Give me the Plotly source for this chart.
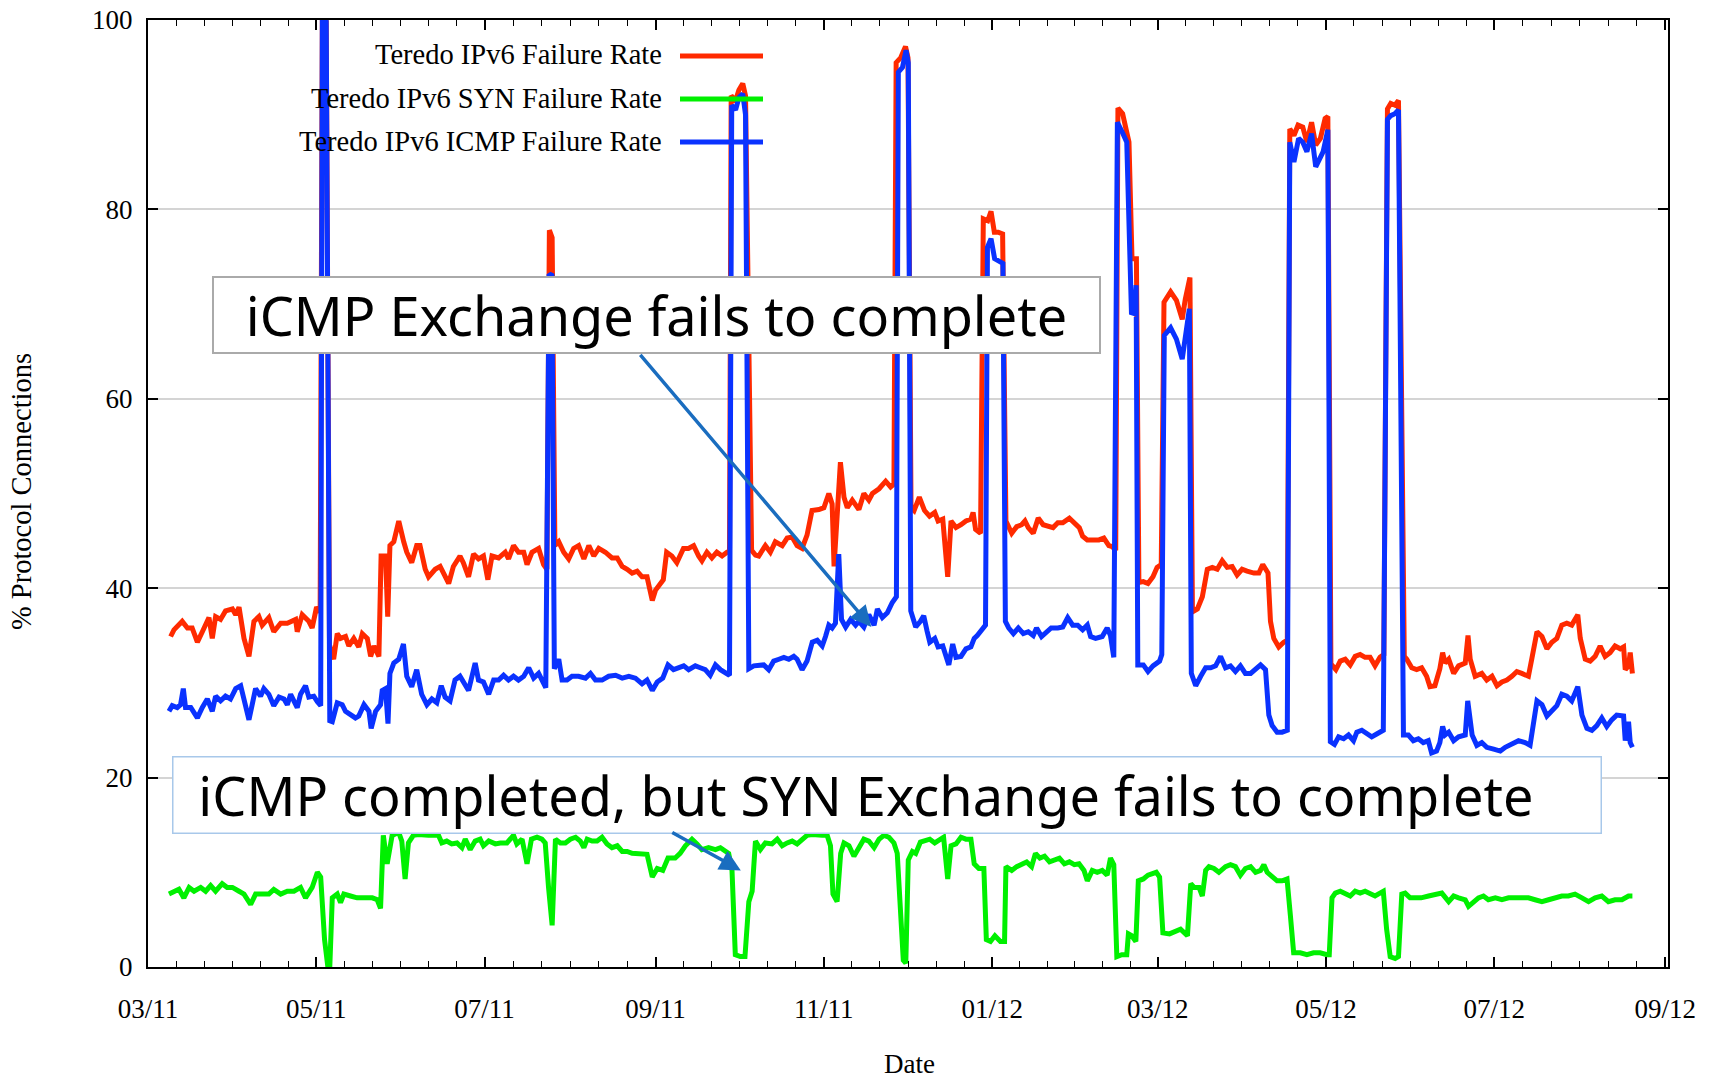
import pandas as pd
import plotly.graph_objects as go

START = "2011-03-01"  # day 0 of the day offsets below

# ---- Teredo IPv6 Failure Rate (red) : day offset, percent ----
red_day = [8.2, 9.4, 12.4, 14.3, 16, 17.9, 19.7, 22.1, 23.3, 24.5, 26.3, 28.1, 30.6, 31.8, 33, 34.8, 36.6, 38.4, 40.2, 41.4,
           43.8, 45.6, 48.1, 50.5, 53.5, 54.1, 55.9, 58.3, 59.5, 61.1, 62.4, 63.2, 64.6, 65.8, 67.3, 68.6, 69.8, 71.6, 72.8, 74.6,
           76.4, 77.7, 79.5, 80.7, 81.9, 83.7, 84.5, 86.1, 86.9, 87.7, 89.1, 90.9, 92.7, 93.8, 95.6, 97.4, 98.6, 100.5, 101.7, 104.1,
           105.9, 107.1, 109, 110.7, 113.1, 114.3, 116.2, 118, 119.8, 121.6, 123.2, 124.7, 127.1, 129.5, 130.7, 132.5, 134.3, 136.2, 137.4, 139.2,
           141.6, 143.4, 144.6, 145.5, 146.5, 147.5, 148.9, 150.7, 152.5, 154.3, 156.1, 158, 159.8, 161.6, 163.4, 165.8, 168.2, 170.1, 171.9, 173.7,
           175.5, 177.3, 179.1, 180.9, 182.8, 184, 185.8, 186.8, 188, 189.9, 191.7, 194.1, 195.9, 197.8, 199.6, 200.8, 202.6, 204.4, 206.2, 208.1,
           209.9, 210.8, 211.4, 213, 214.2, 215.6, 216.6, 218.8, 220.2, 221.4, 223.8, 225.6, 227.4, 229.9, 231.7, 233.5, 235.3, 237.1, 238.9, 240.7,
           243.2, 245, 246.8, 248, 248.7, 249.8, 251, 252.3, 253.5, 255.3, 257.7, 259.5, 261.3, 262.6, 265, 267.4, 269.2, 270.4, 271.2, 272.8,
           274.6, 275.5, 276.6, 277.7, 279.6, 281.5, 283.3, 285.2, 286.4, 288.1, 289.9, 291.1, 292.9, 294.7, 296.5, 298.3, 299.1, 300, 301.8, 302.8,
           304.4, 305.6, 306.8, 308.2, 309.8, 311, 313.1, 314.9, 316.7, 317.9, 319.1, 320.9, 322.7, 324.5, 326.3, 328.1, 329.8, 331.6, 334, 335.8,
           337.6, 338.8, 340.5, 342.3, 344.7, 346.5, 348.3, 349.5, 350.8, 351.6, 353.3, 354.6, 355.6, 356.7, 358.3, 359.2, 360.8, 362.5, 364.3, 365.8,
           367.3, 368.3, 370.7, 372.8, 374.9, 376, 377.7, 378.6, 379.2, 380.4, 382.2, 384, 385.8, 387.6, 389.4, 391.2, 393, 394.8, 396.6, 398.4,
           400.9, 402.7, 404.1, 406, 406.9, 408.1, 409.9, 411.7, 413, 413.9, 415.4, 416.9, 418.6, 420.1, 421.8, 423.3, 425, 426.7, 427.7, 428.8,
           430.6, 432.2, 434, 435.8, 437.6, 439.4, 441.2, 443, 444.8, 446.6, 448, 449.3, 450.5, 452, 453.3, 455.4, 456.3, 458.1, 459.9, 461.7,
           463.5, 464.7, 466.5, 468.3, 469.3, 470.2, 471.5, 473.3, 475.1, 477.5, 478.5, 479.3, 481.1, 483.5, 485.3, 487.2, 489, 490.8, 492.6, 494.4,
           496.2, 498, 500.4, 501.6, 503.5, 505.3, 507.1, 508.9, 510.7, 512.5, 514.3, 516.1, 518.3, 519.2, 521, 522.8, 524.6, 526.4, 528.2, 530,
           531.8, 533.7, 534.9, 535.5, 536.7, 537.3, 538.1]
red_pct = [34.9, 35.6, 36.5, 35.8, 35.8, 34.3, 35.4, 36.9, 34.7, 37, 36.7, 37.6, 37.8, 37.2, 38, 34.7, 32.8, 36.5, 37, 36.1,
           36.9, 35.4, 36.3, 36.3, 36.7, 35.4, 37.2, 36.5, 35.8, 38, 37.5, 100, 99.8, 34, 32.5, 35.2, 34.7, 34.9, 33.9, 34.7,
           33.8, 35.2, 34.7, 32.8, 33.9, 32.8, 43.4, 43.4, 37, 44.5, 44.9, 47.1, 44.9, 43.8, 42.7, 44.5, 44.5, 42, 41.2, 42,
           42.3, 41.6, 40.5, 42.3, 43.4, 42.7, 41.2, 43.6, 43.1, 43.4, 40.9, 43.4, 43.2, 43.8, 43.1, 44.5, 43.8, 43.8, 42.5, 43.8,
           44.2, 42.5, 42, 77.8, 77, 44.5, 44.9, 43.8, 43.1, 44.2, 44.5, 43.1, 44.5, 43.4, 44.2, 43.8, 43.2, 43.2, 42.3, 42,
           41.6, 41.8, 41.2, 41.2, 38.7, 39.8, 40.5, 40.9, 43.8, 43.4, 42.7, 44.2, 44.2, 44.5, 43.4, 42.9, 43.8, 43.2, 43.8, 43.4,
           43.8, 43.8, 92, 91.5, 92.6, 93.3, 92, 44, 43.5, 43.4, 44.5, 43.8, 44.9, 44.5, 45.3, 45.4, 44.5, 44.2, 45.6, 48.2,
           48.3, 48.5, 50, 48.9, 42.3, 48.2, 53.3, 49.6, 48.5, 49.3, 48.3, 50, 49.3, 50, 50.5, 51.3, 50.7, 51, 95.5, 96,
           97.2, 96, 48.5, 48.2, 49.6, 48.2, 47.6, 48, 47.1, 47.3, 41.2, 47.1, 46.4, 46.7, 47.1, 47.3, 48, 46.2, 45.8, 79,
           78.8, 79.8, 77.6, 77.6, 77.4, 47.1, 45.8, 46.5, 46.7, 47.1, 46.4, 45.8, 47.4, 46.7, 46.5, 46.4, 46.9, 46.9, 47.4, 46.9,
           46.4, 45.5, 45.1, 45.1, 45.1, 45.3, 44.5, 44.4, 44, 90.7, 90.1, 88.4, 87.1, 74.8, 74.8, 40.6, 40.7, 40.5, 41.2, 42.2,
           42.5, 70.2, 71.3, 70.4, 68.4, 70.5, 72.8, 38, 37.6, 37.8, 39.1, 42, 42.2, 42, 42.9, 42.2, 42.3, 41.4, 42, 41.8,
           41.6, 41.6, 42.5, 41.6, 36.5, 34.7, 33.8, 34.3, 34.5, 88.5, 87.8, 88.9, 88.7, 87.1, 89.2, 86.8, 87.5, 89.6, 89.8, 32,
           31.4, 32.3, 32.5, 31.9, 32.8, 33, 32.7, 32.7, 31.8, 32.7, 33, 90.6, 91.2, 91, 91.5, 32.8, 32.5, 31.6, 31.4, 31.6,
           30.7, 29.6, 29.7, 31.5, 33.2, 32.1, 32.5, 31, 31.8, 32.1, 35, 32.5, 30.7, 31, 30.3, 30.7, 29.7, 30.1, 30.3, 30.7,
           31.2, 31, 30.7, 32.5, 35.4, 34.9, 33.6, 34.3, 34.7, 36.1, 36.3, 36.1, 37.2, 34.7, 32.5, 32.3, 32.8, 33.9, 32.8, 33.2,
           33.9, 33.6, 33.8, 31.4, 31.8, 33.2, 31]

# ---- Teredo IPv6 SYN Failure Rate (green) ----
green_day = [7.6, 9.4, 11.2, 13, 14.9, 16.7, 19.1, 20.9, 22.7, 24.5, 26.9, 28.7, 30.6, 33, 34.8, 37.2, 39, 41.4, 43.8, 45.6,
             48.1, 50.5, 52.9, 55.3, 57.1, 59.5, 61.4, 62.6, 64, 65.2, 65.9, 66.8, 68.6, 69.8, 71, 73.4, 75.8, 78.3, 81.3, 83.1,
             84.3, 85.3, 86.7, 88.5, 90.9, 92, 93.2, 94.4, 96.2, 98, 99.8, 101.7, 103.5, 105.3, 106.5, 108.3, 110.1, 112, 113.8, 115,
             116.8, 118.6, 120.4, 121.6, 123.5, 125.9, 127.7, 130.1, 132.5, 133.7, 135.6, 137.4, 139, 141, 142.8, 144, 145.2, 146.5, 147.7, 149.5,
             151.3, 153.1, 155, 156.7, 158, 159.2, 161, 162.8, 164.6, 166.4, 168.2, 170.1, 171.9, 173.7, 175.5, 177.3, 179.1, 180.9, 182.8, 184.6,
             186.6, 188.5, 191.1, 192.9, 194.8, 197.2, 199, 200.8, 203.2, 205.7, 207.5, 209.3, 210.5, 211.7, 212.9, 214.7, 216.4, 217.8, 219, 220.2,
             222, 223.8, 226.2, 228.1, 229.9, 231.7, 233.5, 235.3, 237.1, 238.9, 240.8, 242.6, 244.4, 246.2, 247.4, 248.3, 249.8, 251.1, 252.3, 254.1,
             255.9, 257.7, 259.5, 261.3, 263.2, 265, 266.8, 268.6, 270.4, 271.6, 272.8, 273.8, 274.7, 275.6, 277.1, 278.3, 280, 281.8, 283.4, 285.2,
             287, 288.4, 289.9, 291.1, 292.9, 294.7, 296.5, 298.3, 299.5, 301.2, 303, 303.9, 305.4, 307, 309, 310.5, 311, 313.1, 314.9, 316.7,
             318.5, 320.3, 321.7, 323.3, 325, 326.8, 328.6, 330.4, 332.2, 334, 335.8, 337.5, 339.3, 340.5, 342.3, 344.1, 345.9, 347.7, 348.9, 350.1,
             351.2, 353, 354.8, 355.4, 356.6, 358.1, 359, 360.8, 362.5, 364.3, 365.5, 366.7, 367.9, 370.3, 372.6, 374.3, 376.8, 378, 379.2, 381,
             382.2, 383.4, 384.6, 386.4, 388.2, 390.6, 392.4, 394.2, 396, 397.8, 399.7, 401.5, 403.3, 404.5, 405.7, 407.5, 409.3, 411.1, 412.9, 414.1,
             415.3, 417.7, 420.1, 422.5, 424.9, 427.4, 428.2, 429.2, 430.4, 432.2, 434, 435.8, 437.6, 439.4, 441.2, 443, 444.8, 446.6, 447.8, 449,
             450.3, 452.1, 453.3, 454.5, 455.7, 457.5, 459.3, 461.5, 464.2, 466.6, 469, 471.5, 473.3, 475.1, 477.5, 478.7, 480.5, 482.3, 484.1, 485.9,
             488.4, 490.8, 493.2, 495.6, 498, 500.4, 502.8, 505.3, 507.7, 510.1, 512.5, 514.9, 517.3, 519.8, 522.2, 524.6, 527, 529.4, 531.8, 534.3,
             536.7, 538.1]
green_pct = [7.7, 8, 8.2, 7.3, 8.4, 8, 8.4, 8, 8.6, 8, 8.8, 8.4, 8.4, 8, 7.7, 6.6, 7.7, 7.7, 7.7, 8.2,
             7.7, 8, 8, 8.4, 7.3, 8.4, 10, 9.5, 2.9, 0, 0, 7.3, 7.7, 6.8, 7.7, 7.5, 7.3, 7.3, 7.3, 7.1,
             6.2, 13.9, 10.9, 13.9, 14.2, 13.3, 9.3, 13.1, 13.9, 14, 13.9, 13.9, 13.9, 13.9, 13.1, 13.3, 13, 13.1, 12.6, 13.5,
             12.4, 13.3, 13.5, 12.8, 13.3, 13, 13.1, 13.1, 13.9, 13, 13.5, 10.9, 13.5, 13.7, 13.5, 13.1, 8.4, 4.4, 13.5, 13.1,
             13.1, 13.5, 13.7, 13.3, 12.6, 13.5, 13.3, 13.3, 13.7, 13, 12.6, 12.8, 12.2, 12.2, 12, 12, 12, 11.9, 9.5, 10.4,
             10.2, 11.5, 11.5, 12, 12.8, 13.5, 13, 12.4, 12.6, 12.4, 12.6, 12.2, 12, 10.2, 1.3, 1.1, 1.1, 6.9, 8, 13.3,
             12.4, 13.1, 13, 13.5, 12.8, 13.1, 13.3, 13, 13.5, 13.9, 14, 13.9, 13.9, 13.9, 12.8, 7.7, 6.9, 12, 13.1, 12.8,
             11.7, 12.6, 13.5, 13.3, 12.6, 13.5, 13.9, 13.7, 13.1, 12, 4.7, 0.7, 0.4, 11.3, 12.2, 12, 13.2, 13.4, 13.5, 13.1,
             13.5, 13.7, 9.3, 12.8, 13, 13.7, 13.5, 13.5, 10.9, 10.4, 10.4, 2.9, 2.7, 3.3, 2.7, 2.7, 10.6, 10.2, 10.6, 10.9,
             11.1, 10.6, 12, 11.5, 11.7, 11.1, 11.3, 11.5, 10.9, 11.1, 10.8, 10.9, 10.2, 9.1, 10.2, 10, 10.2, 9.7, 11.5, 10.8,
             1.1, 1.3, 1.3, 3.5, 3.3, 2.7, 9.1, 9.3, 9.7, 9.9, 10, 9.5, 3.6, 3.5, 3.8, 4, 3.3, 8.8, 8.4, 8.4,
             7.5, 10.2, 10.6, 10.4, 10, 10.6, 10.8, 10.6, 9.7, 10.4, 10.6, 10, 10.2, 10.8, 10, 9.5, 9.1, 9.1, 9.3, 5.5,
             1.5, 1.5, 1.3, 1.5, 1.5, 1.3, 1.3, 7.3, 7.8, 8, 7.8, 7.5, 8, 7.8, 8, 7.7, 7.5, 7.8, 8, 4,
             1.1, 0.9, 1.1, 7.7, 7.8, 7.3, 7.3, 7.3, 7.5, 7.7, 7.8, 6.9, 7.5, 7.3, 7.1, 6.4, 6.9, 7.3, 7.5, 7.1,
             7.3, 7.1, 7.3, 7.3, 7.3, 7.3, 7.1, 6.9, 7.1, 7.3, 7.5, 7.5, 7.7, 7.3, 6.9, 7.3, 7.5, 6.9, 7.1, 7.1,
             7.5, 7.5]

# ---- Teredo IPv6 ICMP Failure Rate (blue) ----
blue_day = [7.6, 8.8, 10.6, 11.8, 12.8, 13.6, 15.5, 17.9, 19.7, 21.5, 23.3, 24.5, 26.3, 28.1, 29.9, 31.8, 33.6, 34.8, 36.6, 39,
            40.8, 42, 43.8, 45.6, 47.5, 49.3, 50.5, 51.7, 54.1, 55.3, 57.1, 58.3, 60.1, 61.4, 62.6, 63.2, 64.6, 65.9, 66.8, 68.6,
            70.4, 71.6, 73.4, 75.2, 76.4, 78.3, 80.1, 80.9, 82.5, 84.3, 84.9, 86.1, 87, 87.7, 89.1, 90.9, 92.6, 93.8, 95.6, 97.4,
            99.2, 101.1, 102.9, 104.7, 106.3, 107.7, 109.5, 111.3, 113.1, 115, 116.2, 118.6, 119.8, 121.6, 123.5, 125.3, 127.1, 128.9, 130.7, 132.5,
            134.3, 136.2, 138, 139.8, 141.6, 144.2, 145.4, 146.4, 147.3, 148.9, 150.1, 151.9, 153.7, 156.1, 158.6, 160.4, 162.2, 164.6, 167, 169.5,
            171.9, 174.3, 176.7, 179.1, 180.9, 182.8, 184.6, 186.6, 188.5, 190.5, 192.3, 194.2, 196, 198.4, 200.2, 202, 203.8, 205.7, 207.5, 209.3,
            210.8, 211.6, 213, 214.2, 215.6, 216.6, 217.8, 219.6, 221.4, 223.2, 225, 226.8, 228.7, 230.5, 232.3, 234.1, 235.3, 237.1, 238.9, 240.8,
            242.6, 244.4, 245.6, 246.8, 248, 249.2, 250.4, 251.4, 252.9, 254.7, 256.5, 257.7, 259.5, 261.3, 263.2, 264.4, 266.2, 268, 269.8, 271.3,
            272, 273.5, 274.8, 275.6, 276.5, 278.3, 280, 281.2, 282.4, 283.4, 285.2, 286.4, 288.1, 290.3, 291.7, 292.9, 294.7, 296.5, 298.3, 299.5,
            300.6, 302.4, 303.6, 304.3, 305.6, 306.9, 308.4, 309.9, 310.8, 312, 313.7, 315.5, 317.3, 319.1, 320.9, 322.1, 323.9, 325.6, 327.4, 329.8,
            331.6, 333.4, 335.2, 337, 338.8, 340.5, 341.7, 343.5, 345.9, 347.7, 348.9, 350.1, 351.4, 353.1, 354.8, 356.5, 357.6, 358.2, 358.8, 360.8,
            362.5, 364.3, 366.7, 367.5, 368.4, 370.7, 372.8, 374.9, 376, 377.5, 378.2, 379.8, 381.6, 383.4, 385.2, 387, 388.8, 390.6, 392.4, 394.2,
            396, 397.8, 399.7, 401.5, 403.3, 405.1, 406.3, 407.5, 409.3, 411.1, 413, 413.9, 415.4, 417.1, 418.6, 420.1, 421.8, 423.3, 425, 426,
            427.7, 428.6, 430.1, 431.6, 433.4, 435.2, 437, 438.2, 440, 441.8, 443.6, 445.4, 447.8, 449.3, 450.5, 452, 453.3, 455.1, 456.9, 458.7,
            460.5, 462.3, 464.1, 465.3, 467.1, 468.3, 469.3, 470.2, 471.5, 473.3, 475.1, 477.5, 478.4, 480, 481.7, 483.5, 485.3, 487.8, 490.2, 492,
            494.4, 496.8, 499.2, 501, 503.5, 505.3, 507.1, 508.9, 510.7, 512.5, 514.3, 516.1, 518.3, 519.8, 521.6, 523.4, 525.2, 527, 528.8, 530.6,
            532.4, 534.9, 535.5, 536.7, 537.3, 538.1]
blue_pct = [27, 27.6, 27.4, 27.7, 29.4, 27.4, 27.4, 26.3, 27.4, 28.3, 27, 28.6, 28.1, 28.6, 28.3, 29.4, 29.7, 28.1, 26.1, 29.4,
            28.6, 29.4, 28.8, 27.6, 28.5, 28.3, 27.7, 28.8, 27.4, 28.8, 29.7, 28.5, 28.6, 28, 27.6, 100, 99.8, 26, 25.9, 27.9,
            27.7, 27, 26.6, 26.3, 26.5, 27.7, 27, 25.2, 27, 27.7, 29.2, 29.4, 25.7, 31, 32.1, 32.5, 34.1, 30.7, 29.6, 31.4,
            28.8, 27.7, 28.3, 27.9, 29.7, 28.5, 28.1, 30.3, 30.7, 29.9, 29.2, 32.1, 30.3, 30.1, 28.8, 30.3, 30.3, 30.8, 30.3, 30.7,
            30.3, 30.7, 31.6, 30.5, 31, 29.5, 73, 73.2, 31.5, 32.5, 30.3, 30.3, 30.7, 30.7, 30.5, 31, 30.3, 30.3, 30.7, 30.8,
            30.5, 30.7, 30.5, 29.9, 30.3, 29.2, 30.1, 30.5, 31.9, 31.4, 31.6, 31.8, 31.4, 31.8, 31.6, 31.4, 30.8, 31.9, 31.4, 31,
            30.8, 91, 90.5, 91.8, 92.2, 90, 31.5, 31.8, 31.8, 31.9, 31.4, 32.3, 32.5, 32.7, 32.5, 32.8, 32.5, 31.4, 32.3, 34.3,
            34.5, 33.9, 34.9, 36.1, 35.8, 36.3, 43.6, 36.7, 35.9, 36.7, 36.1, 36.5, 35.9, 37.2, 36.1, 37.8, 36.9, 37.4, 38.5, 39.1,
            94.5, 95, 96.8, 95.5, 37.6, 35.9, 36.5, 37.1, 35.5, 34.3, 34.7, 33.8, 33.9, 31.9, 34.1, 32.7, 32.8, 33.6, 33.8, 34.7,
            35, 35.6, 36.1, 76, 76.9, 74.8, 74.6, 74.3, 36.5, 35.8, 35.2, 35.8, 35.2, 35.4, 35, 35.8, 34.9, 35.4, 35.8, 35.8,
            35.9, 36.9, 36.1, 36.1, 35.6, 36.1, 34.9, 34.7, 34.9, 35.8, 35, 32.7, 89.2, 88.2, 87.1, 69.1, 69, 72, 31.9, 31.9,
            31.2, 31.8, 32.3, 33, 66.7, 67.5, 66.3, 64.2, 66.7, 69.5, 31, 29.7, 30.7, 31.6, 31.6, 31.8, 32.8, 31.6, 31.8, 31.2,
            31.8, 31, 31, 31.4, 31.9, 31.4, 26.6, 25.5, 24.8, 24.8, 25, 87.1, 85, 87.5, 87.1, 86.1, 88, 84.5, 85.4, 86.1,
            88.4, 23.8, 23.5, 24.3, 24.1, 24.5, 23.9, 24.8, 25, 24.6, 24.3, 24.6, 25, 89.5, 89.9, 90.1, 90.5, 24.5, 24.5, 23.9,
            24.1, 23.7, 23.9, 22.6, 22.8, 23.7, 25.4, 24.5, 24.8, 23.9, 24.3, 24.5, 28.1, 24.5, 23.4, 23.7, 23.2, 23, 22.8, 23.2,
            23.5, 23.9, 23.7, 23.4, 28.1, 27.7, 26.5, 27, 27.6, 28.8, 28.6, 28.1, 29.6, 26.6, 25.2, 25, 25.5, 26.3, 25.4, 26.1,
            26.6, 26.5, 23.9, 25.9, 23.7, 23.2]

series_names = ["Teredo IPv6 Failure Rate", "Teredo IPv6 SYN Failure Rate", "Teredo IPv6 ICMP Failure Rate"]
series_colors = ["#ff2a00", "#00f000", "#0a32ff"]

x_tick_dates = ["2011-03-01", "2011-05-01", "2011-07-01", "2011-09-01", "2011-11-01", "2012-01-01",
                "2012-03-01", "2012-05-01", "2012-07-01", "2012-09-01"]
x_tick_labels = ["03/11", "05/11", "07/11", "09/11", "11/11", "01/12", "03/12", "05/12", "07/12", "09/12"]
y_ticks = [0, 20, 40, 60, 80, 100]

box1_text = "iCMP Exchange fails to complete"
box2_text = "iCMP completed, but SYN Exchange fails to complete"
# arrow (tail day, tail %, head day, head %)
arrow1 = (178, 64.8, 262.2, 35.9)
arrow2 = (189.5, 14.3, 214.9, 10.2)

start = pd.Timestamp(START)
def to_dates(days):
    return start + pd.to_timedelta(days, unit="D")

def iso(day):
    return (start + pd.Timedelta(days=day)).strftime("%Y-%m-%d %H:%M")

fig = go.Figure()
for name, color, d, v in [(series_names[0], series_colors[0], red_day, red_pct),
                          (series_names[1], series_colors[1], green_day, green_pct),
                          (series_names[2], series_colors[2], blue_day, blue_pct)]:
    fig.add_trace(go.Scatter(x=to_dates(d), y=v, mode="lines", name=name,
                             line=dict(color=color, width=5), showlegend=False))

# minor ticks: 5 between each pair of major ticks
major = pd.to_datetime(x_tick_dates)
minor_vals = []
for a, b in zip(major[:-1], major[1:]):
    for k in range(1, 6):
        minor_vals.append(a + (b - a) * k / 6)

serif = "Liberation Serif, Times New Roman, serif"
W, H = 1721, 1084
ml, mr, mt, mb = 148, 53, 20, 117

fig.update_layout(
    width=W, height=H,
    margin=dict(l=ml, r=mr, t=mt, b=mb, autoexpand=False),
    plot_bgcolor="white", paper_bgcolor="white",
    font=dict(family=serif, size=27, color="black"),
    xaxis=dict(range=["2011-03-01", "2012-09-02"], tickvals=x_tick_dates, ticktext=x_tick_labels,
               ticks="inside", ticklen=10, tickwidth=1.5, tickcolor="black",
               showline=True, linewidth=2, linecolor="black", mirror="allticks",
               showgrid=False, zeroline=False, ticklabelstandoff=17, automargin=False,
               tickfont=dict(family=serif, size=27, color="black"),
               minor=dict(tickvals=minor_vals, ticks="inside", ticklen=6, tickwidth=1.2,
                          tickcolor="black", showgrid=False)),
    yaxis=dict(range=[0, 100], tickvals=y_ticks, ticks="inside", ticklen=10, tickwidth=1.5,
               tickcolor="black", showline=True, linewidth=2, linecolor="black", mirror="allticks",
               showgrid=True, gridcolor="#d4d4d4", gridwidth=1.5, zeroline=False, automargin=False,
               ticklabelstandoff=8, tickfont=dict(family=serif, size=27, color="black")),
)

pw = W - ml - mr
ph = H - mt - mb
def px(xpix):
    return (xpix - ml) / pw
def py(ypix):
    return 1 - (ypix - mt) / ph

annotations = []
shapes = []
# manual gnuplot-style legend: text right-aligned, sample line on the right
legend_rows = [56, 99, 142]
for name, color, yrow in zip(series_names, series_colors, legend_rows):
    annotations.append(dict(xref="paper", yref="paper", x=px(664), y=py(yrow - 1), text=name,
                            showarrow=False, xanchor="right", yanchor="middle",
                            font=dict(family=serif, size=28.5, color="black")))
    shapes.append(dict(type="line", xref="paper", yref="paper", x0=px(680), x1=px(763),
                       y0=py(yrow), y1=py(yrow), line=dict(color=color, width=5)))

hand = "Noto Sans, sans-serif"
nb = "\u00a0"
annotations.append(dict(xref="paper", yref="paper", x=px(212), y=py(275.5), xanchor="left", yanchor="top",
                        text=box1_text, showarrow=False, align="center", width=885, height=74,
                        bgcolor="white", bordercolor="#aaaaaa", borderwidth=2, borderpad=0,
                        font=dict(family=hand, size=54, color="black")))
annotations.append(dict(xref="paper", yref="paper", x=px(172), y=py(756), xanchor="left", yanchor="top",
                        text=box2_text + nb * 3, showarrow=False, align="center", width=1427, height=75,
                        bgcolor="white", bordercolor="#a8c8ea", borderwidth=1.5, borderpad=0,
                        font=dict(family=hand, size=54, color="black")))
for (td, tv, hd, hv) in [arrow1, arrow2]:
    annotations.append(dict(xref="x", yref="y", x=iso(hd), y=hv, axref="x", ayref="y",
                            ax=iso(td), ay=tv, text="", showarrow=True, arrowhead=2,
                            arrowsize=1.2, arrowwidth=3.5, arrowcolor="#1a6dbf", standoff=0))

annotations.append(dict(xref="paper", yref="paper", x=px(22), y=py(492), text="% Protocol Connections",
                        textangle=-90, showarrow=False, xanchor="center", yanchor="middle",
                        font=dict(family=serif, size=28.5, color="black")))
annotations.append(dict(xref="paper", yref="paper", x=px(909), y=py(1064), text="Date",
                        showarrow=False, xanchor="center", yanchor="middle",
                        font=dict(family=serif, size=27, color="black")))

fig.update_layout(annotations=annotations, shapes=shapes)
fig.write_html("out.html")
